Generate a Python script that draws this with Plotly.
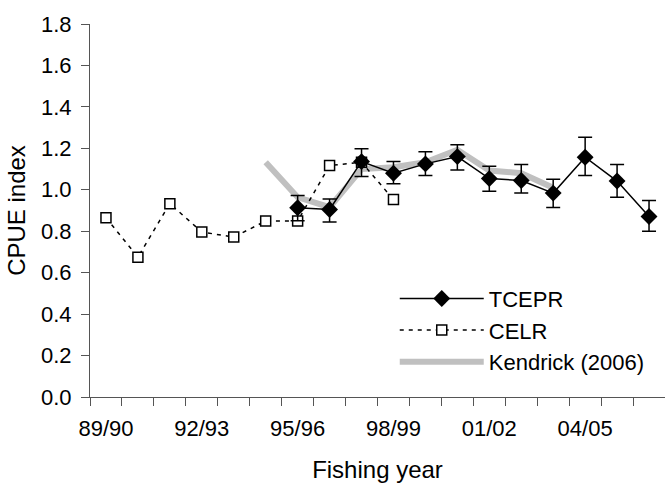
import plotly.graph_objects as go

years = ["89/90", "90/91", "91/92", "92/93", "93/94", "94/95", "95/96", "96/97",
         "97/98", "98/99", "99/00", "00/01", "01/02", "02/03", "03/04", "04/05",
         "05/06", "06/07"]

celr_years = ["89/90", "90/91", "91/92", "92/93", "93/94", "94/95", "95/96",
              "96/97", "97/98", "98/99"]
celr = [0.865, 0.675, 0.933, 0.796, 0.772, 0.849, 0.849, 1.117, 1.133, 0.953]

tcepr_years = ["95/96", "96/97", "97/98", "98/99", "99/00", "00/01", "01/02",
               "02/03", "03/04", "04/05", "05/06", "06/07"]
tcepr = [0.913, 0.905, 1.136, 1.080, 1.125, 1.160, 1.054, 1.045, 0.984, 1.157, 1.042, 0.871]
tcepr_upper = [0.972, 0.955, 1.198, 1.136, 1.183, 1.217, 1.114, 1.122, 1.051, 1.253, 1.122, 0.948]
tcepr_lower = [0.850, 0.844, 1.064, 1.029, 1.069, 1.096, 0.993, 0.984, 0.915, 1.069, 0.964, 0.800]

kendrick_years = ["94/95", "95/96", "96/97", "97/98", "98/99", "99/00", "00/01",
                  "01/02", "02/03", "03/04"]
kendrick = [1.133, 0.964, 0.916, 1.100, 1.109, 1.133, 1.193, 1.093, 1.080, 1.010]

tick_labels = [y if i % 3 == 0 else "" for i, y in enumerate(years)]

FONT = "Liberation Sans, Arial, sans-serif"

fig = go.Figure()
fig.add_trace(go.Scatter(
    x=kendrick_years, y=kendrick, mode="lines", name="Kendrick (2006)",
    line=dict(color="#c0c0c0", width=6), legendrank=3))
fig.add_trace(go.Scatter(
    x=celr_years, y=celr, mode="lines+markers", name="CELR",
    line=dict(color="black", width=1.5, dash="4px,5px"),
    marker=dict(symbol="square", size=10, color="white",
                line=dict(color="black", width=1.5)), legendrank=2))
fig.add_trace(go.Scatter(
    x=tcepr_years, y=tcepr, mode="lines+markers", name="TCEPR",
    line=dict(color="black", width=1.5),
    marker=dict(symbol="diamond", size=13, color="black"),
    error_y=dict(type="data", symmetric=False,
                 array=[u - v for u, v in zip(tcepr_upper, tcepr)],
                 arrayminus=[v - l for v, l in zip(tcepr, tcepr_lower)],
                 color="black", thickness=1.5, width=7),
    legendrank=1))

fig.update_layout(
    width=665, height=483,
    margin=dict(l=90, r=0, t=24, b=86),
    paper_bgcolor="white", plot_bgcolor="white",
    font=dict(family=FONT, size=22, color="black"),
    showlegend=True,
    legend=dict(x=0.53, y=0.32, xanchor="left", yanchor="top",
                bgcolor="rgba(0,0,0,0)", font=dict(size=22),
                itemwidth=84, tracegroupgap=0),
    xaxis=dict(type="category", categoryorder="array", categoryarray=years,
               range=[-0.5, 17.5], tickmode="array", tickvals=years,
               ticktext=tick_labels, tickson="boundaries", ticks="outside",
               ticklen=8, tickcolor="#555", showline=True, linecolor="#555",
               linewidth=1, showgrid=False, zeroline=False, tickangle=0,
               ticklabelstandoff=12,
               title=dict(text="Fishing year", standoff=22,
                          font=dict(family=FONT, size=24, color="black"))),
    yaxis=dict(range=[0, 1.8], dtick=0.2, tickformat=".1f", ticks="outside",
               ticklen=8, tickcolor="#555", showline=True, linecolor="#555",
               linewidth=1, showgrid=False, zeroline=False,
               ticklabelstandoff=5,
               title=dict(text="CPUE index", standoff=8,
                          font=dict(family=FONT, size=24, color="black"))),
)

fig.write_html("out.html")
